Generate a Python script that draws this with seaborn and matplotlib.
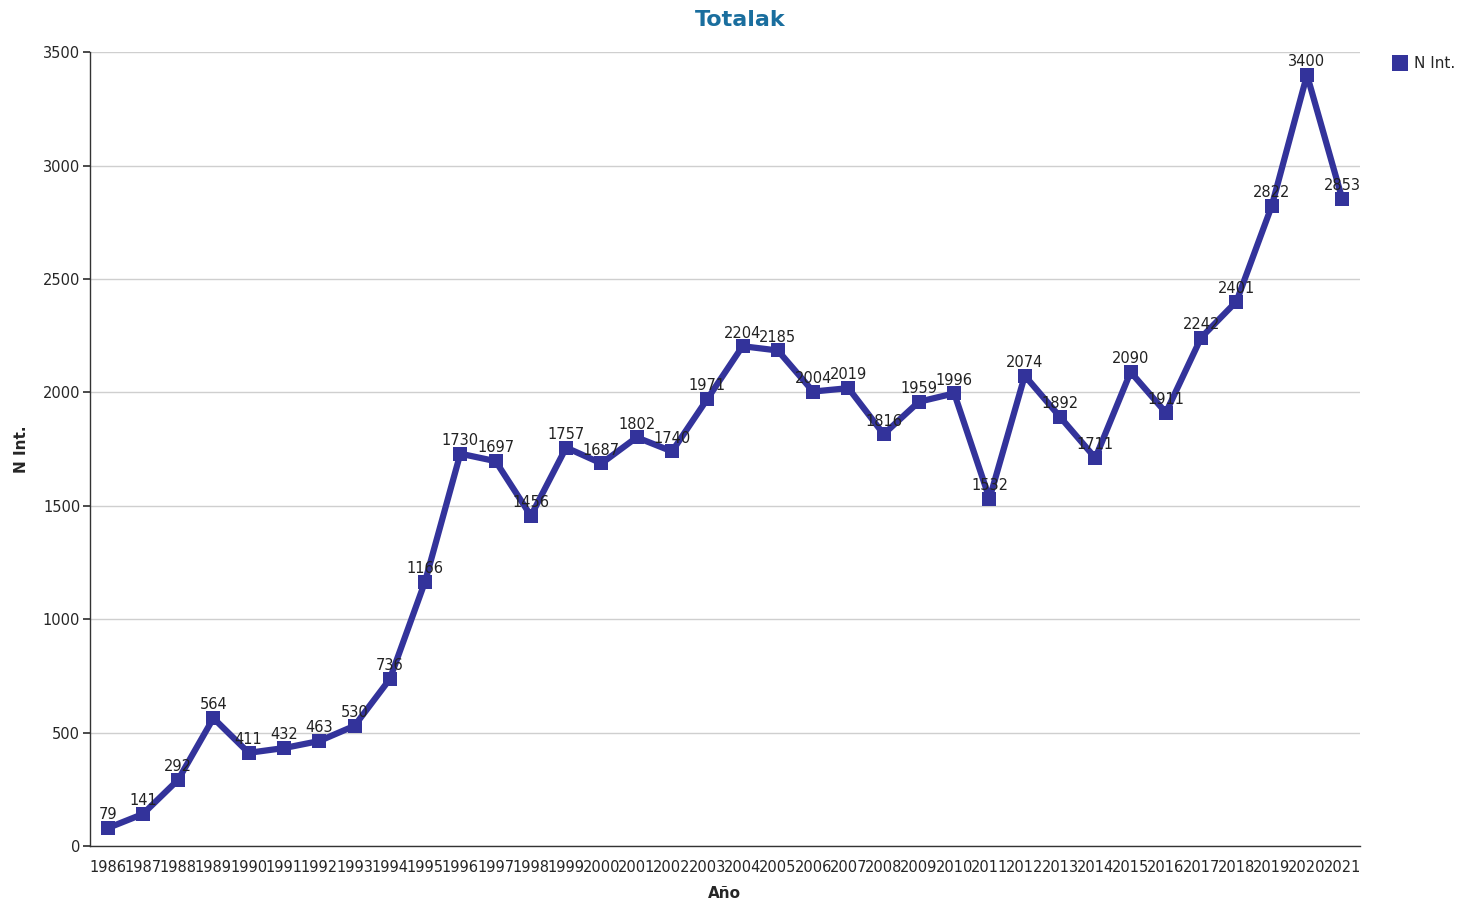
import matplotlib
matplotlib.use("Agg")
import matplotlib.pyplot as plt
from matplotlib.patches import FancyBboxPatch
from matplotlib.lines import Line2D
import seaborn as sns
import pandas as pd

years = [str(y) for y in range(1986, 2022)]
n_int = [79, 141, 292, 564, 411, 432, 463, 530, 736, 1166, 1730, 1697, 1456, 1757,
         1687, 1802, 1740, 1971, 2204, 2185, 2004, 2019, 1816, 1959, 1996, 1532,
         2074, 1892, 1711, 2090, 1911, 2242, 2401, 2822, 3400, 2853]
y_ticks = [0, 500, 1000, 1500, 2000, 2500, 3000, 3500]

df = pd.DataFrame({"Año": years, "N Int.": n_int})

sns.set_theme(style="white")
plt.rcParams["font.family"] = ["DejaVu Sans"]

line_color = "#33339B"

fig = plt.figure(figsize=(14.67, 9.01), dpi=100)
ax = fig.add_axes([0.0613, 0.061, 0.8657, 0.881])

sns.lineplot(data=df, x="Año", y="N Int.", ax=ax, color=line_color, linewidth=4.5,
             marker="s", markersize=10, markeredgewidth=0, sort=False, legend=False)

for i, v in enumerate(n_int):
    ax.text(i, v + 25, str(v), ha="center", va="bottom", fontsize=10.5, color="#222222")

ax.set_xlim(-0.5, len(years) - 0.5)
ax.set_ylim(0, 3500)
ax.set_yticks(y_ticks)
ax.set_yticklabels([str(t) for t in y_ticks], fontsize=10.5)
ax.set_xticks(range(len(years)))
ax.set_xticklabels(years, fontsize=10.5)
ax.yaxis.grid(True, color="#CFCFCF", linewidth=1)
ax.xaxis.grid(False)
ax.set_axisbelow(True)
for s in ["top", "right"]:
    ax.spines[s].set_visible(False)
for s in ["left", "bottom"]:
    ax.spines[s].set_color("#333333")
    ax.spines[s].set_linewidth(1)
ax.tick_params(axis="y", which="both", left=True, length=5, color="#333333", pad=2)
ax.tick_params(axis="x", which="both", bottom=False, pad=4)

ax.set_xlabel("Año", fontsize=11, fontweight="bold", labelpad=8)
ax.set_ylabel("N Int.", fontsize=11, fontweight="bold", labelpad=10)
fig.text(740 / 1467, 1 - 20 / 901, "Totalak", ha="center", va="center",
         fontsize=16, fontweight="bold", color="#1A6E9E")

handle = Line2D([], [], linestyle="none", marker="s", markersize=11,
                markerfacecolor=line_color, markeredgewidth=0)
ax.legend([handle], ["N Int."], loc="upper left", bbox_to_anchor=(1.015, 1.012),
          frameon=False, fontsize=11, handlelength=1.0, handletextpad=0.4)

fig.savefig("out.png", dpi=100)
